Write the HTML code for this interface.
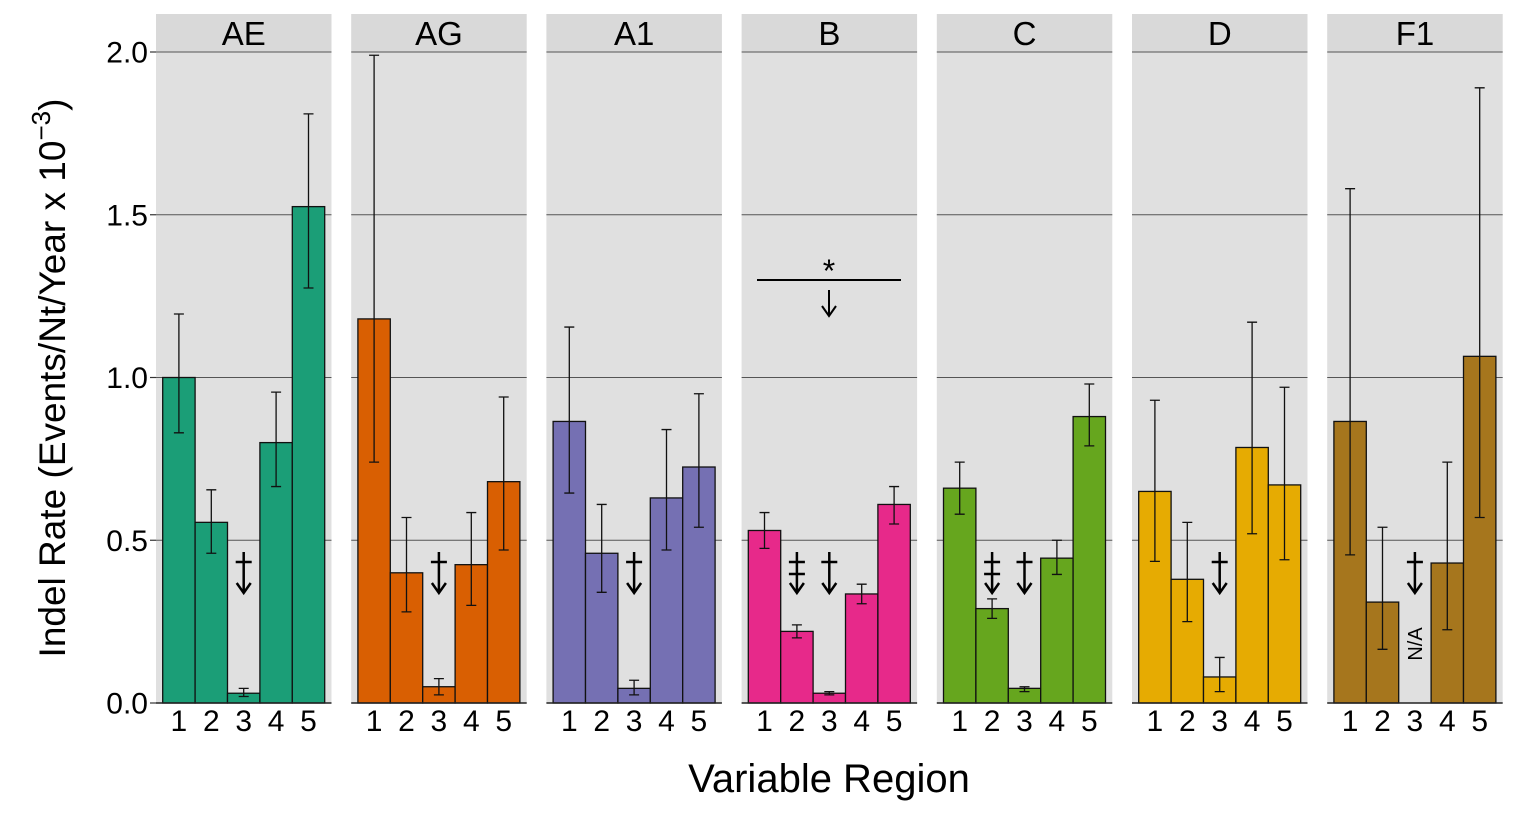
<!DOCTYPE html>
<html><head><meta charset="utf-8"><style>
body{margin:0;background:#fff}
svg{display:block;font-family:"Liberation Sans",sans-serif}
</style></head><body>
<svg id="chart" width="1527" height="819" viewBox="0 0 1527 819"></svg>
<script>
const subtypes = ["AE","AG","A1","B","C","D","F1"];
const colors = ["#1b9e77","#d95f02","#7570b3","#e7298a","#66a61e","#e6ab02","#a6761d"];
const regions = ["1","2","3","4","5"];
const rates = [
 [1.0,0.555,0.03,0.80,1.525],
 [1.18,0.40,0.05,0.425,0.68],
 [0.865,0.46,0.045,0.63,0.725],
 [0.53,0.22,0.03,0.335,0.61],
 [0.66,0.29,0.045,0.445,0.88],
 [0.65,0.38,0.08,0.785,0.67],
 [0.865,0.31,null,0.43,1.065]
];
const lower = [
 [0.83,0.46,0.02,0.665,1.275],
 [0.74,0.28,0.025,0.30,0.47],
 [0.645,0.34,0.025,0.47,0.54],
 [0.475,0.20,0.025,0.305,0.55],
 [0.58,0.26,0.035,0.395,0.79],
 [0.435,0.25,0.035,0.52,0.44],
 [0.455,0.165,null,0.225,0.57]
];
const upper = [
 [1.195,0.655,0.045,0.955,1.81],
 [1.99,0.57,0.075,0.585,0.94],
 [1.155,0.61,0.07,0.84,0.95],
 [0.585,0.24,0.035,0.365,0.665],
 [0.74,0.32,0.05,0.50,0.98],
 [0.93,0.555,0.14,1.17,0.97],
 [1.58,0.54,null,0.74,1.89]
];
const yTicks = [0,0.5,1.0,1.5,2.0];
const yTickLabels = ["0.0","0.5","1.0","1.5","2.0"];
const markers = [[0,2,1],[1,2,1],[2,2,1],[3,1,2],[3,2,1],[4,1,2],[4,2,1],[5,2,1],[6,2,1]];

const svg = document.getElementById('chart');
const NS = "http://www.w3.org/2000/svg";
function mk(tag, attrs, parent){const e=document.createElementNS(NS,tag);for(const k in attrs)e.setAttribute(k,attrs[k]);(parent||svg).appendChild(e);return e;}
const y0=703, y2=52;
function y(v){return y0-(v/2)*(y0-y2);}
const panelW=175.5, panelStep=195.2, panelX0=156;
function px(p){return panelX0+p*panelStep;}
const barW=32.4;
function bx(p,i){return px(p)+6.7+i*barW;}

yTicks.forEach((t,i)=>{
  const l=mk('line',{x1:150,x2:156,y1:y(t),y2:y(t),stroke:'#333','stroke-width':1.2});
  
  
  const tx=mk('text',{x:148,y:y(t)+10.5,'text-anchor':'end','font-size':30,fill:'#000'});
  tx.textContent=yTickLabels[i];
  
  
});

subtypes.forEach((s,p)=>{
  const g=mk('g',{});
  
  
  const bg=mk('rect',{x:px(p),y:y2,width:panelW,height:y0-y2,fill:'#e0e0e0'},g);
  
  
  const st=mk('rect',{x:px(p),y:14,width:panelW,height:38,fill:'#d9d9d9'},g);
  
  
  const sl=mk('text',{x:px(p)+panelW/2,y:45,'text-anchor':'middle','font-size':33,fill:'#000'},g);
  sl.textContent=s;
  
  
  yTicks.forEach(t=>{
    if(t===0)return;
    const gl=mk('line',{x1:px(p),x2:px(p)+panelW,y1:y(t),y2:y(t),stroke:'#555','stroke-width':1},g);
    
    
  });
  regions.forEach((r,i)=>{
    const v=rates[p][i];
    if(v!==null){
      const b=mk('rect',{x:bx(p,i),y:y(v),width:barW,height:y0-y(v),fill:colors[p],stroke:'#111','stroke-width':1.3},g);
      
      
      const cx=bx(p,i)+barW/2;
      const e=mk('path',{d:`M${cx-5},${y(upper[p][i])}H${cx+5}M${cx},${y(upper[p][i])}V${y(lower[p][i])}M${cx-5},${y(lower[p][i])}H${cx+5}`,stroke:'#111','stroke-width':1.3,fill:'none'},g);
      
      
    }
    const tl=mk('text',{x:bx(p,i)+barW/2,y:731,'text-anchor':'middle','font-size':30,fill:'#000'},g);
    tl.textContent=r;
    
    
  });
  const ax=mk('line',{x1:px(p),x2:px(p)+panelW,y1:y0,y2:y0,stroke:'#222','stroke-width':1.5},g);
  
  
});

markers.forEach(m=>{
  const cx=bx(m[0],m[1])+barW/2;
  let d=`M${cx},552V592M${cx-7},583L${cx},593L${cx+7},583M${cx-8},562H${cx+8}`;
  if(m[2]===2)d+=`M${cx-8},574H${cx+8}`;
  const e=mk('path',{d:d,stroke:'#000','stroke-width':2.5,fill:'none'});
  
  
});

const bl=mk('path',{d:`M757,280H901M829,290V316M822,306L829,316L836,306`,stroke:'#000','stroke-width':2,fill:'none'});


const star=mk('text',{x:829,y:282,'text-anchor':'middle','font-size':32,fill:'#000'});
star.textContent='*';



const na=mk('text',{x:0,y:0,'text-anchor':'middle','font-size':20,fill:'#000',transform:`translate(${bx(6,2)+barW/2+7},644) rotate(-90)`});
na.textContent='N/A';



const yt=mk('text',{x:0,y:0,'text-anchor':'middle','font-size':37,fill:'#000',transform:'translate(65,378) rotate(-90)'});
yt.innerHTML='Indel Rate (Events/Nt/Year x 10<tspan dy="-15" font-size="26">−3</tspan><tspan dy="15">)</tspan>';


const xt=mk('text',{x:829,y:792,'text-anchor':'middle','font-size':40,fill:'#000'});
xt.textContent='Variable Region';


</script>
</body></html>
